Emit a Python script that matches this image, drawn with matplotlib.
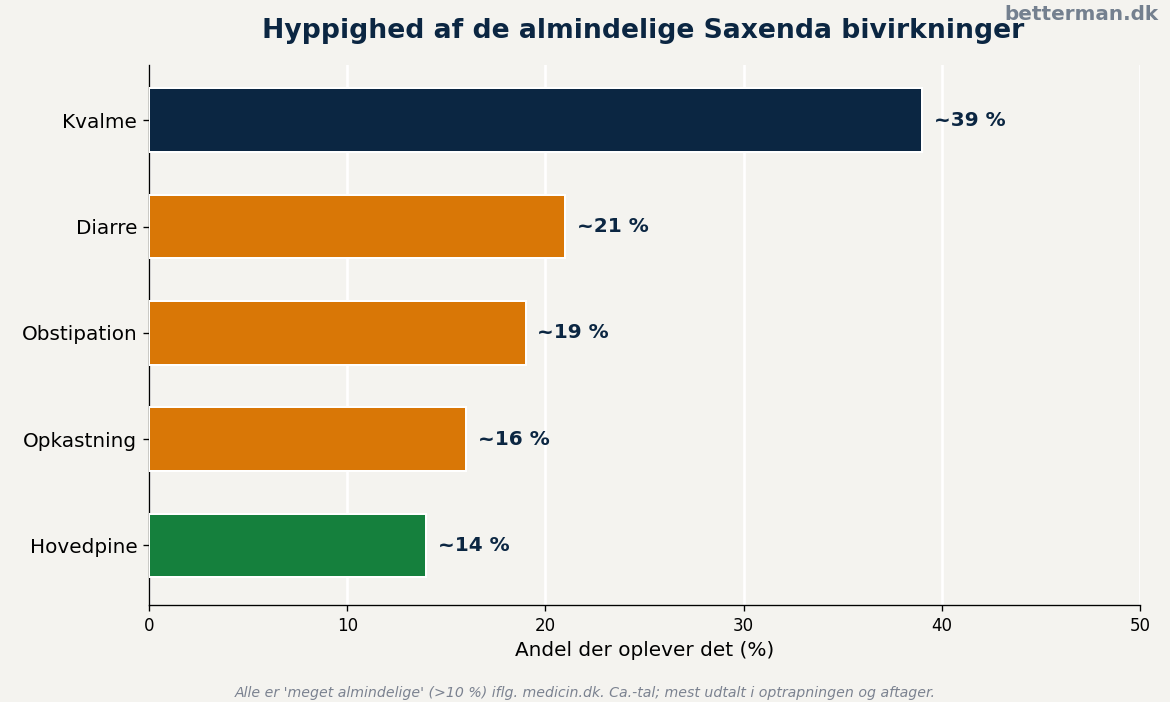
import matplotlib
matplotlib.use("Agg")
import matplotlib.pyplot as plt

categories = ["Kvalme", "Diarre", "Obstipation", "Opkastning", "Hovedpine"]
values = [39, 21, 19, 16, 14]
colors = ["#0b2642", "#d97706", "#d97706", "#d97706", "#15803d"]
value_labels = ["~39 %", "~21 %", "~19 %", "~16 %", "~14 %"]

bg = "#f4f3ef"
navy = "#0b2642"

W, H = 1170, 702
fig = plt.figure(figsize=(W/120, H/120), dpi=120, facecolor=bg)
ax = fig.add_axes([149/W, 1 - 605/H, (1140-149)/W, (605-65)/H])
ax.set_facecolor(bg)

y = list(range(len(categories)))
ax.barh(y, values, height=0.6, color=colors, edgecolor="white", linewidth=1.2, zorder=3)
for yi, v, lab in zip(y, values, value_labels):
    ax.text(v + 0.6, yi, lab, va="center", ha="left", fontsize=12, fontweight="bold", color=navy, zorder=4)

ax.set_yticks(y)
ax.set_yticklabels(categories, fontsize=12)
ax.set_ylim(4.56, -0.52)
ax.set_xlim(0, 50)
ax.set_xticks([0, 10, 20, 30, 40, 50])
ax.tick_params(axis="x", labelsize=10)
ax.set_xlabel("Andel der oplever det (%)", fontsize=12)
ax.grid(axis="x", color="white", linewidth=1.6, zorder=0)
ax.set_axisbelow(True)
for s in ["top", "right"]:
    ax.spines[s].set_visible(False)

fig.text(0.55, 1 - 31/H, "Hyppighed af de almindelige Saxenda bivirkninger", ha="center", va="center",
         fontsize=16, fontweight="bold", color=navy)
fig.text(0.99, 1 - 15/H, "betterman.dk", ha="right", va="center", fontsize=12, fontweight="bold", color="#74808f")
fig.text(0.5, 1 - 693/H, "Alle er 'meget almindelige' (>10 %) iflg. medicin.dk. Ca.-tal; mest udtalt i optrapningen og aftager.",
         ha="center", va="center", fontsize=8.5, style="italic", color="#7b8290")

fig.savefig("out.png", dpi=120, facecolor=bg)
